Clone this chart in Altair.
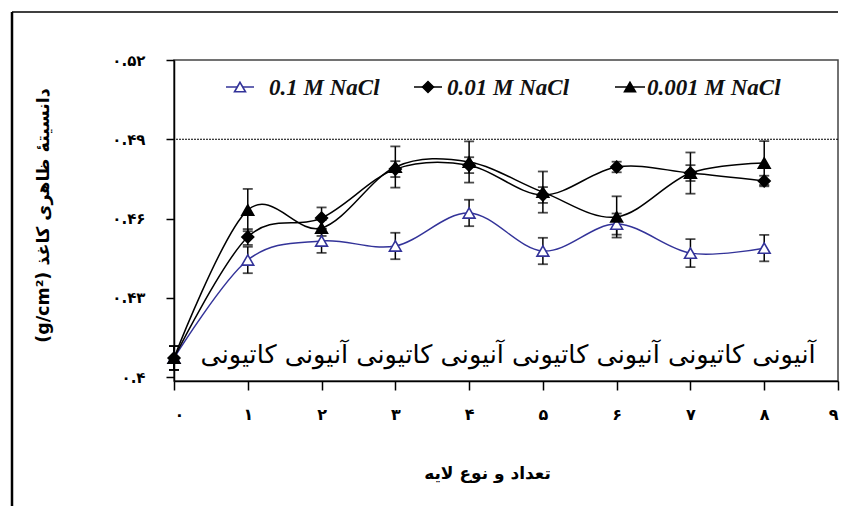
import altair as alt
import pandas as pd

# ---------------- data ----------------
x_layers = [0, 1, 2, 3, 4, 5, 6, 7, 8]
series_names = ["0.1 M NaCl", "0.01 M NaCl", "0.001 M NaCl"]
density_01 = [0.4072, 0.4443, 0.4515, 0.4496, 0.4621, 0.4477, 0.4579, 0.4469, 0.4488]
density_001 = [0.4072, 0.4530, 0.4602, 0.4787, 0.4802, 0.4689, 0.4795, 0.4772, 0.4742]
density_0001 = [0.4072, 0.4632, 0.4564, 0.4795, 0.4814, 0.4700, 0.4606, 0.4772, 0.4810]
err_01 = [0.0045, 0.0050, 0.0045, 0.0050, 0.0050, 0.0050, 0.0040, 0.0053, 0.0050]
err_001 = [0.0045, 0.0030, 0.0040, 0.0030, 0.0030, 0.0030, 0.0020, 0.0030, 0.0020]
err_0001 = [0.0045, 0.0080, 0.0030, 0.0078, 0.0078, 0.0078, 0.0078, 0.0078, 0.0083]
reference_level = [0.49]
y_tick_values = [0.40, 0.43, 0.46, 0.49, 0.52]
y_tick_labels = ["۰.۴", "۰.۴۳", "۰.۴۶", "۰.۴۹", "۰.۵۲"]
x_tick_values = [0, 1, 2, 3, 4, 5, 6, 7, 8, 9]
x_tick_labels = ["۰", "۱", "۲", "۳", "۴", "۵", "۶", "۷", "۸", "۹"]
layer_type_row = "آنیونی  کاتیونی آنیونی کاتیونی  آنیونی کاتیونی آنیونی کاتیونی"
x_title = "تعداد و نوع لایه"
y_title = "(g/cm²) دانسیتهٔ ظاهری کاغذ"

# ---------------- styles / layout ----------------
line_colors = ["#333399", "black", "black"]
fill_colors = ["white", "black", "black"]
shapes = ["triangle-up", "diamond", "triangle-up"]
PLOT_W, PLOT_H = 664, 321
legend_line_x1 = [52, 240, 441]
legend_line_x2 = [80, 268, 471]
legend_sym_x = [66, 254, 456]
legend_text_x = [95, 273, 473]
legend_y = 27

rows = []
for name, vals, errs in zip(series_names, [density_01, density_001, density_0001],
                            [err_01, err_001, err_0001]):
    for x, v, e in zip(x_layers, vals, errs):
        rows.append({"series": name, "layer": x, "density": v,
                     "lo": v - e, "hi": v + e})
df = pd.DataFrame(rows)

y_idx = "[" + ",".join(str(round(v * 100)) for v in y_tick_values) + "]"
y_lab = "[" + ",".join(f"'{l}'" for l in y_tick_labels) + "]"
x_lab = "[" + ",".join(f"'{l}'" for l in x_tick_labels) + "]"

x_scale = alt.Scale(domain=[0, 9], nice=False)
y_scale = alt.Scale(domain=[0.3985, 0.52], nice=False, zero=False)

x_axis = alt.Axis(values=x_tick_values, labelExpr=f"{x_lab}[datum.value]",
                  title=x_title, grid=False, tickSize=9, labelPadding=16,
                  labelFont="DejaVu Sans", labelFontSize=16, labelFontWeight="bold",
                  labelColor="black", titleFont="DejaVu Sans", titleFontSize=17,
                  titleFontWeight="bold", titleColor="black",
                  titleX=313, titleY=92, titleBaseline="middle", titleAnchor="start",
                  titleAlign="center")
y_axis = alt.Axis(values=y_tick_values,
                  labelExpr=f"{y_lab}[indexof({y_idx}, round(datum.value*100))]",
                  title=y_title, grid=False, tickSize=8, labelPadding=21,
                  labelFont="DejaVu Sans", labelFontSize=15, labelFontWeight="bold",
                  labelColor="black", titleFont="DejaVu Sans", titleFontSize=17.5,
                  titleFontWeight="bold", titleColor="black", titleAngle=-90,
                  titleX=-131, titleY=155, titleAlign="center", titleBaseline="middle",
                  titleAnchor="start")

stroke_enc = alt.Stroke("series:N", scale=alt.Scale(domain=series_names, range=line_colors),
                        legend=None)

base = alt.Chart(df)

ref = alt.Chart(pd.DataFrame({"ref": reference_level})).mark_rule(
    color="black", strokeWidth=1, strokeDash=[2, 1]
).encode(y=alt.Y("ref:Q", scale=y_scale, axis=y_axis))

lines = base.mark_line(interpolate="cardinal", tension=0, strokeWidth=1.5).encode(
    x=alt.X("layer:Q", scale=x_scale, axis=x_axis),
    y=alt.Y("density:Q", scale=y_scale, axis=y_axis),
    stroke=stroke_enc,
)

bars = base.mark_rule(color="black", strokeWidth=1.5).encode(
    x="layer:Q", y="lo:Q", y2="hi:Q")
caps_lo = base.mark_tick(orient="horizontal", color="black", size=10, thickness=1.8).encode(
    x="layer:Q", y="lo:Q")
caps_hi = base.mark_tick(orient="horizontal", color="black", size=10, thickness=1.8).encode(
    x="layer:Q", y="hi:Q")

points = base.mark_point(filled=True, size=140, strokeWidth=1.6, opacity=1).encode(
    x="layer:Q",
    y="density:Q",
    shape=alt.Shape("series:N", scale=alt.Scale(domain=series_names, range=shapes), legend=None),
    fill=alt.Fill("series:N", scale=alt.Scale(domain=series_names, range=fill_colors), legend=None),
    stroke=stroke_enc,
)

layers = [ref, lines, bars, caps_lo, caps_hi, points]

# manual legend
for i, name in enumerate(series_names):
    one = pd.DataFrame({"label": [name]})
    layers.append(alt.Chart(one).mark_rule(color=line_colors[i], strokeWidth=1.5).encode(
        x=alt.value(legend_line_x1[i]), x2=alt.value(legend_line_x2[i]), y=alt.value(legend_y)))
    layers.append(alt.Chart(one).mark_point(
        shape=shapes[i], filled=True, fill=fill_colors[i], stroke=line_colors[i],
        size=120, strokeWidth=1.6, opacity=1).encode(
        x=alt.value(legend_sym_x[i]), y=alt.value(legend_y)))
    layers.append(alt.Chart(one).mark_text(
        align="left", baseline="middle", font="Liberation Serif", fontSize=23,
        fontStyle="italic", fontWeight="bold", color="#111").encode(
        text="label:N", x=alt.value(legend_text_x[i]), y=alt.value(legend_y + 1)))

# row of layer types inside the plot
layers.append(alt.Chart(pd.DataFrame({"t": [layer_type_row]})).mark_text(
    align="center", baseline="middle", font="DejaVu Sans", fontSize=25.5, color="black"
).encode(text="t:N", x=alt.value(334), y=alt.value(295)))

# outer frame of the figure
frame = pd.DataFrame({"a": [0]})
layers.append(alt.Chart(frame).mark_rule(color="black", strokeWidth=1.5).encode(
    x=alt.value(-162), x2=alt.value(664), y=alt.value(-48)))
layers.append(alt.Chart(frame).mark_rule(color="black", strokeWidth=2.5).encode(
    x=alt.value(-162), y=alt.value(-48), y2=alt.value(470)))

chart = alt.layer(*layers).properties(
    width=PLOT_W, height=PLOT_H,
    autosize=alt.AutoSizeParams(type="none"),
    padding={"left": 166, "top": 52, "right": 2, "bottom": 125},
).configure_view(stroke="#444", strokeWidth=1.5).configure_axis(
    domainColor="black", domainWidth=1.5, tickColor="black", tickWidth=1.5
)

chart.save("out.html", embed_options={"renderer": "svg", "actions": False})
